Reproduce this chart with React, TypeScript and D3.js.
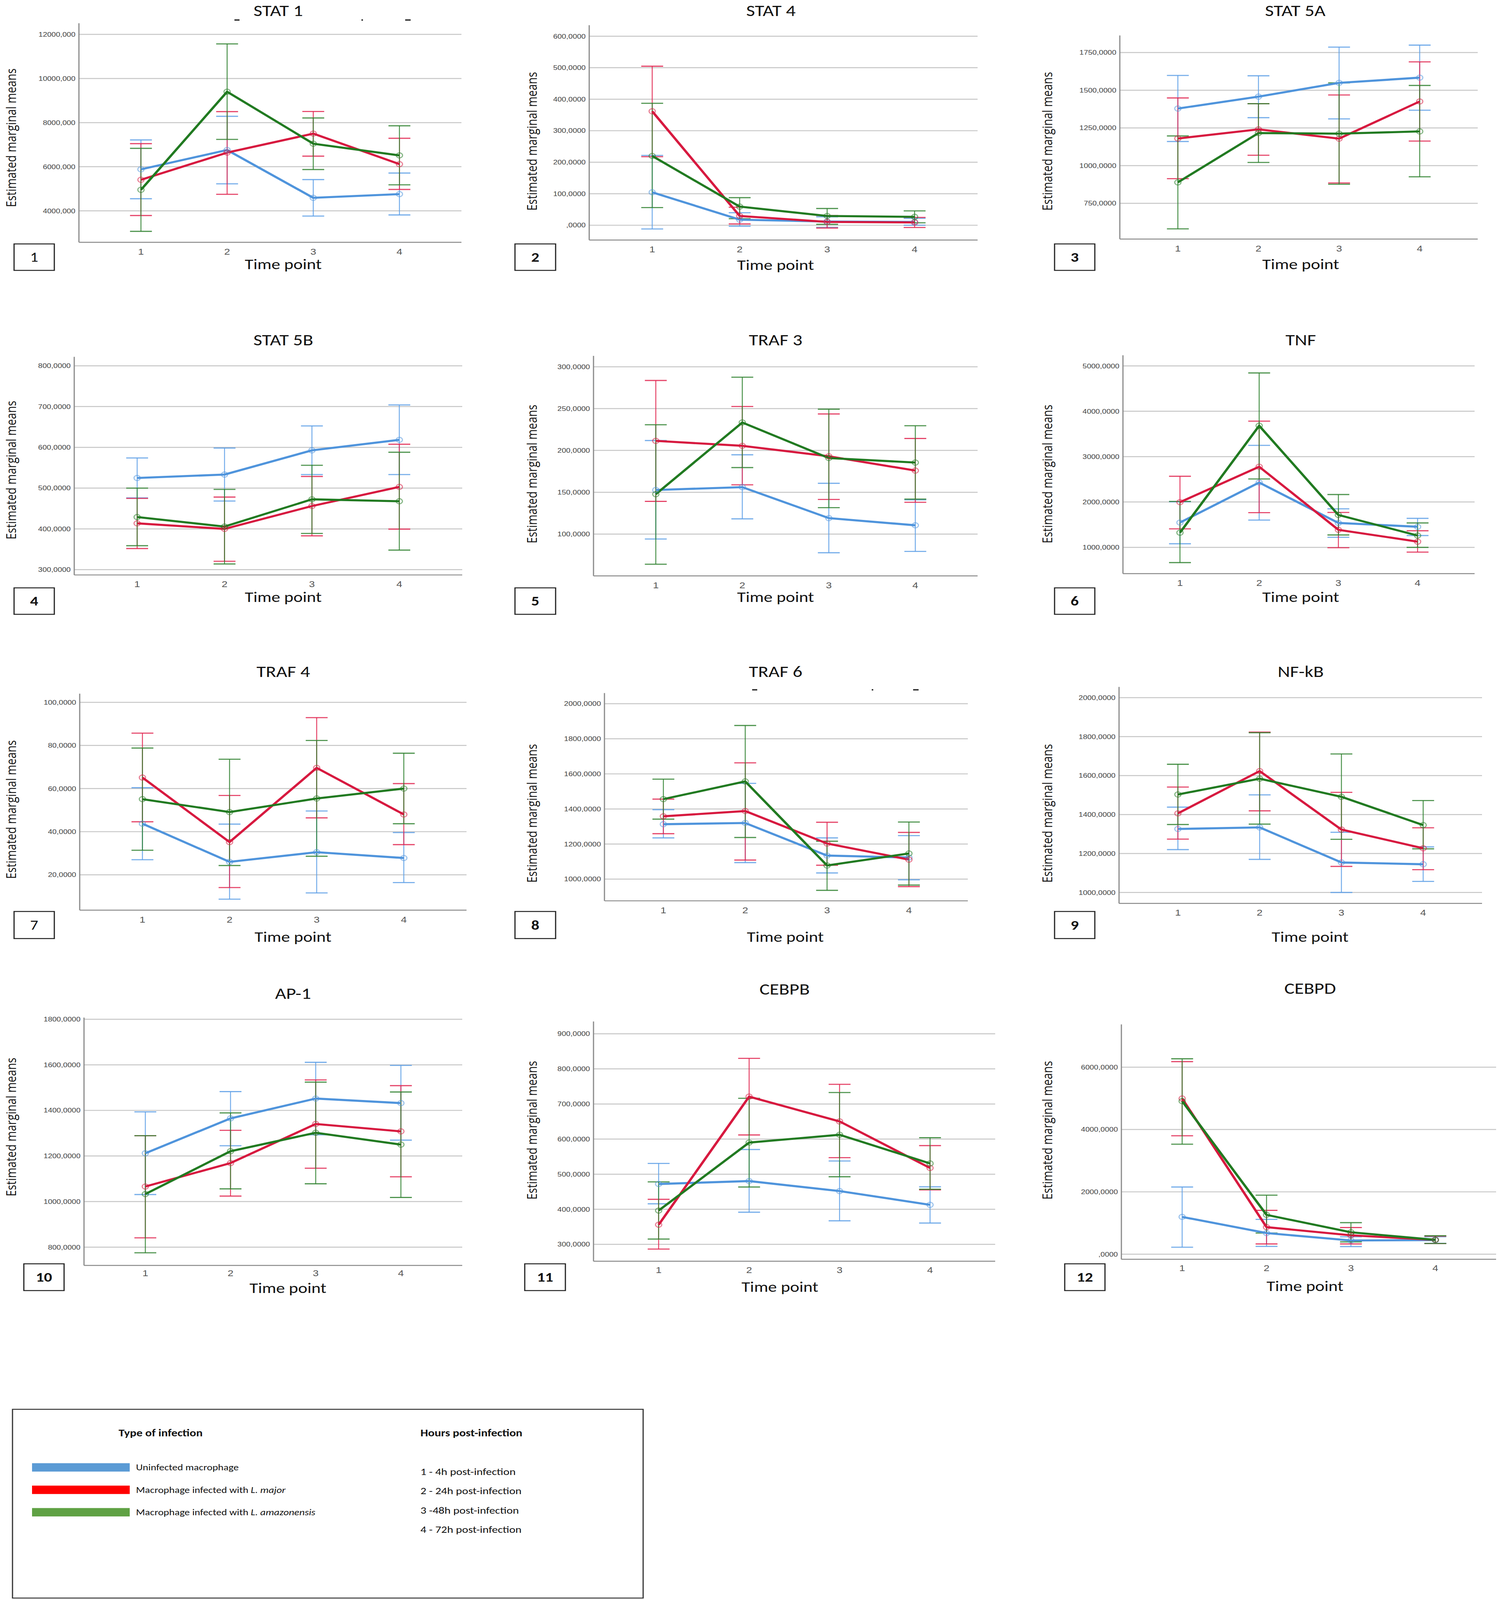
import React, { useEffect, useState } from 'react';
import * as d3 from 'd3';

// Gene panels, in reading order
const genes = ['STAT 1', 'STAT 4', 'STAT 5A', 'STAT 5B', 'TRAF 3', 'TNF', 'TRAF 4', 'TRAF 6', 'NF-kB', 'AP-1', 'CEBPB', 'CEBPD'];
const timePoints = ['1', '2', '3', '4'];

// Uninfected macrophage (blue)
const uninfectedMean = [
  [5882, 6759, 4591, 4759],
  [104.6, 17.7, 11.8, 10.6],
  [1378.6, 1457.6, 1548.8, 1583.4],
  [524.9, 533.3, 592.7, 618.4],
  [152.7, 156.1, 119.1, 110.5],
  [1546, 2429, 1538, 1454],
  [43.7, 26.0, 30.5, 27.8],
  [1313, 1320, 1134, 1123],
  [1326, 1334, 1154, 1145],
  [1212, 1365, 1452, 1432],
  [472, 480.4, 451.8, 412.7],
  [1196, 677, 440, 453],
];
const uninfectedLow = [
  [4549, 5224, 3764, 3814],
  [-11.8, -3, -7, 0],
  [1160, 1318, 1310, 1367.5],
  [476, 468.3, 533.3, 533.3],
  [94.1, 118.2, 77.7, 79.3],
  [1080, 1601, 1223, 1260],
  [27, 8.7, 11.6, 16.4],
  [1235, 1094, 1035, 996],
  [1220, 1170, 1000, 1057],
  [1031, 1245, 1293, 1269.5],
  [415.6, 391.7, 367.1, 360.7],
  [223, 250, 243, 348],
];
const uninfectedHigh = [
  [7215, 8287, 5418, 5713],
  [221.6, 39.6, 26.6, 22],
  [1598, 1596, 1786, 1799],
  [574, 598.3, 652.5, 704],
  [211.8, 194.8, 160.7, 141],
  [2004, 3248, 1849, 1639],
  [60.4, 43.5, 49.6, 39.6],
  [1396, 1546, 1235, 1248],
  [1438, 1501, 1309, 1234],
  [1393.5, 1482.5, 1611, 1597.5],
  [530.6, 570.3, 537.6, 464],
  [2156, 1117, 559, 559],
];

// Infected with L. major (red)
const majorMean = [
  [5409, 6641, 7502, 6118],
  [361.7, 29.5, 10.6, 8.9],
  [1180, 1240.5, 1179, 1425.5],
  [413.6, 400, 456, 503],
  [211.4, 205.5, 193, 175.9],
  [1996, 2777, 1387, 1126],
  [65.1, 35.2, 69.6, 48],
  [1358, 1388, 1203, 1111],
  [1406, 1623, 1323, 1227],
  [1066, 1169, 1340.5, 1308],
  [356, 720.9, 650.3, 517.7],
  [4995, 867.6, 604.7, 460],
];
const majorLow = [
  [3789, 4751, 6481, 4970],
  [217.5, 4.1, -8.9, -7.1],
  [913.7, 1069, 885, 1163],
  [351.8, 320.5, 383, 399.5],
  [139.1, 158.9, 141.4, 138],
  [1408, 1765, 992, 895],
  [44.6, 14.1, 46.4, 34],
  [1259, 1108.5, 1079, 957],
  [1274, 1419, 1134, 1117],
  [841, 1024, 1146.5, 1108.7],
  [286.6, 611.7, 547, 455.3],
  [3799, 328.6, 328.6, 341.8],
];
const majorHigh = [
  [7046, 8498, 8506, 7291],
  [504.7, 57.3, 30.7, 24.8],
  [1449, 1410.7, 1468.7, 1688],
  [474.8, 478, 528.6, 607.7],
  [283.6, 252.5, 243.6, 214.3],
  [2567, 3782, 1769, 1366],
  [85.7, 56.8, 92.9, 62.3],
  [1456, 1663, 1324, 1266],
  [1541, 1823, 1514, 1332],
  [1289, 1312.6, 1533.7, 1508.5],
  [428.4, 830, 756, 581.4],
  [6178, 1406.5, 854.4, 578],
];

// Infected with L. amazonensis (green)
const amazonMean = [
  [4954, 9401, 7046, 6515],
  [219.9, 59.1, 29.5, 26.6],
  [889, 1216, 1212, 1227],
  [429, 405.6, 472.5, 467.8],
  [147.7, 233.4, 190.9, 185.5],
  [1324, 3681, 1714, 1260],
  [55.1, 49.1, 55.4, 60],
  [1456, 1557, 1077.5, 1146],
  [1503, 1584, 1491, 1346],
  [1033, 1221, 1302, 1250],
  [396.3, 590, 612.3, 530.6],
  [4910, 1262, 703, 460],
];
const amazonLow = [
  [3072, 7240, 5873, 5181],
  [56.1, 20.7, 3, 7.7],
  [580.7, 1021, 876.7, 926],
  [358.8, 314, 388.8, 348],
  [64, 179.5, 131.6, 141.8],
  [664, 2508, 1273, 1000],
  [31.4, 24.3, 28.6, 43.7],
  [1342, 1237, 936, 966],
  [1349, 1351, 1273, 1224],
  [775.4, 1055.7, 1078, 1018],
  [315.2, 463.5, 492.6, 457],
  [3529, 677, 394, 341.8],
];
const amazonHigh = [
  [6835, 11570, 8211, 7857],
  [387.1, 87.5, 53.2, 45.5],
  [1197, 1410.7, 1549, 1531.6],
  [500, 496.8, 556, 588],
  [230.7, 287.5, 249.3, 229.5],
  [2013, 4845, 2164, 1538],
  [78.8, 73.6, 82.3, 76.4],
  [1570, 1876, 1216, 1325.5],
  [1658, 1820, 1711, 1472],
  [1289, 1389, 1524, 1480.7],
  [478, 716.2, 732.6, 604],
  [6270, 1893, 1012, 591.5],
];

// y axis extents and ticks per panel
const yDomains = [
  [2574, 12506], [-47, 635], [513, 1863], [287, 822], [50, 313], [420, 5235],
  [3.6, 104], [876, 2061], [944, 2055], [720, 1807], [252, 935], [-164, 7373],
];
const yTicks = [
  [4000, 6000, 8000, 10000, 12000],
  [0, 100, 200, 300, 400, 500, 600],
  [750, 1000, 1250, 1500, 1750],
  [300, 400, 500, 600, 700, 800],
  [100, 150, 200, 250, 300],
  [1000, 2000, 3000, 4000, 5000],
  [20, 40, 60, 80, 100],
  [1000, 1200, 1400, 1600, 1800, 2000],
  [1000, 1200, 1400, 1600, 1800, 2000],
  [800, 1000, 1200, 1400, 1600, 1800],
  [300, 400, 500, 600, 700, 800, 900],
  [0, 2000, 4000, 6000],
];
const tickDecimals = [3, 4, 4, 4, 4, 4, 4, 4, 4, 4, 4, 4];

const groupLabels = ['Uninfected macrophage', 'Macrophage infected with ', 'Macrophage infected with '];
const groupItalic = ['', 'L. major', 'L. amazonensis'];
const hourLabels = ['1 - 4h post-infection', '2 - 24h post-infection', '3 -48h post-infection', '4 - 72h post-infection'];

// panel frames in reference pixels (3839 x 4959 artboard); xt = offset of the 1..4 labels below the axis
const frames = [
  { l: 202, r: 1181, t: 72, b: 751, tx: 712, ty: 33, xx: 725, xy: 819, xt: 29, yx: 27, yy: 427, box: [36, 756, 103, 82] },
  { l: 1508, r: 2502, t: 78, b: 744, tx: 1973, ty: 33, xx: 1985, xy: 821, xt: 29, yx: 1360, yy: 438, box: [1318, 756, 104, 82] },
  { l: 2866, r: 3782, t: 110, b: 741, tx: 3315, ty: 33, xx: 3329, xy: 819, xt: 29, yx: 2679, yy: 438, box: [2699, 756, 103, 82] },
  { l: 190, r: 1183, t: 1106, b: 1782, tx: 725, ty: 1053, xx: 725, xy: 1850, xt: 29, yx: 27, yy: 1457, box: [36, 1822, 103, 82] },
  { l: 1519, r: 2502, t: 1103, b: 1785, tx: 1985, ty: 1053, xx: 1985, xy: 1850, xt: 29, yx: 1360, yy: 1469, box: [1318, 1822, 104, 82] },
  { l: 2874, r: 3774, t: 1101, b: 1778, tx: 3329, ty: 1053, xx: 3329, xy: 1850, xt: 29, yx: 2679, yy: 1469, box: [2699, 1822, 103, 82] },
  { l: 204, r: 1194, t: 2150, b: 2821, tx: 725, ty: 2081, xx: 750, xy: 2904, xt: 29, yx: 27, yy: 2509, box: [36, 2825, 103, 84] },
  { l: 1547, r: 2477, t: 2148, b: 2792, tx: 1985, ty: 2081, xx: 2010, xy: 2904, xt: 29, yx: 1360, yy: 2521, box: [1318, 2825, 104, 84] },
  { l: 2864, r: 3793, t: 2129, b: 2800, tx: 3329, ty: 2081, xx: 3353, xy: 2904, xt: 29, yx: 2679, yy: 2521, box: [2699, 2825, 103, 84] },
  { l: 215, r: 1183, t: 3154, b: 3922, tx: 750, ty: 3079, xx: 737, xy: 3992, xt: 24, yx: 27, yy: 3493, box: [61, 3917, 103, 83] },
  { l: 1519, r: 2547, t: 3166, b: 3909, tx: 2008, ty: 3065, xx: 1996, xy: 3988, xt: 27, yx: 1360, yy: 3503, box: [1343, 3917, 104, 83] },
  { l: 2870, r: 3829, t: 3175, b: 3903, tx: 3353, ty: 3063, xx: 3340, xy: 3986, xt: 27, yx: 2679, yy: 3503, box: [2725, 3917, 103, 83] },
];

// stray dash marks left under two of the titles in the source figure
const strayMarks = [
  { x: 600, y: 62, w: 13 }, { x: 925, y: 62, w: 4 }, { x: 1037, y: 62, w: 14 },
  { x: 1925, y: 2138, w: 13 }, { x: 2231, y: 2138, w: 4 }, { x: 2337, y: 2138, w: 14 },
];

const CALIBRI = "Carlito, 'Liberation Sans', sans-serif";
const TICKFONT = "'Liberation Sans', Arial, sans-serif";
const SANS = "'Open Sans', 'DejaVu Sans', sans-serif";

const series = [
  { mean: uninfectedMean, low: uninfectedLow, high: uninfectedHigh, line: '#4f94dc', bar: '#5d9fe6' },
  { mean: majorMean, low: majorLow, high: majorHigh, line: '#d7193f', bar: '#e0244f' },
  { mean: amazonMean, low: amazonLow, high: amazonHigh, line: '#217a21', bar: '#2f812f' },
];
const swatchColors = ['#5b9bd5', '#ff0000', '#5fa144'];

const fmt = (v: number, d: number) => (v === 0 ? ',' : `${v},`) + '0'.repeat(d);

const Panel = ({ i }: { i: number }) => {
  const f = frames[i];
  const x = d3.scalePoint<string>().domain(timePoints).range([f.l, f.r]).padding(0.72);
  const y = d3.scaleLinear().domain(yDomains[i]).range([f.b, f.t]);
  const line = d3.line<number>()
    .x((_, j) => x(timePoints[j])!)
    .y(d => y(d));
  const cap = 28;

  return (
    <g>
      <text x={f.tx} y={f.ty} textAnchor="middle" dominantBaseline="central"
        fontFamily={CALIBRI} fontSize={49} fill="#111">{genes[i]}</text>

      {yTicks[i].map(t => (
        <g key={t}>
          <line x1={f.l} x2={f.r} y1={y(t)} y2={y(t)} stroke="#c6c6c6" strokeWidth={3} />
          <text x={f.l - 9} y={y(t)} textAnchor="end" dominantBaseline="central"
            fontFamily={TICKFONT} fontSize={20} fill="#444">{fmt(t, tickDecimals[i])}</text>
        </g>
      ))}

      <line x1={f.l} x2={f.l} y1={f.t} y2={f.b} stroke="#8a8a8a" strokeWidth={3} />
      <line x1={f.l} x2={f.r} y1={f.b} y2={f.b} stroke="#8a8a8a" strokeWidth={3} />

      {timePoints.map(tp => (
        <text key={tp} x={x(tp)} y={f.b + f.xt} textAnchor="middle" dominantBaseline="central"
          fontFamily={TICKFONT} fontSize={27} fill="#555">{tp}</text>
      ))}

      {series.map((s, k) => (
        <g key={'e' + k} stroke={s.bar}>
          {timePoints.map((tp, j) => {
            const cx = x(tp)!;
            const y0 = y(s.low[i][j]);
            const y1 = y(s.high[i][j]);
            return (
              <g key={tp}>
                <line x1={cx} x2={cx} y1={y0} y2={y1} strokeWidth={2.5} strokeOpacity={0.85} />
                <line x1={cx - cap} x2={cx + cap} y1={y0} y2={y0} strokeWidth={3.5} strokeOpacity={0.85} />
                <line x1={cx - cap} x2={cx + cap} y1={y1} y2={y1} strokeWidth={3.5} strokeOpacity={0.85} />
              </g>
            );
          })}
        </g>
      ))}

      {series.map((s, k) => (
        <path key={'l' + k} d={line(s.mean[i]) ?? ''} fill="none" stroke={s.line}
          strokeWidth={6.5} strokeLinejoin="round" />
      ))}

      {series.map((s, k) => (
        <g key={'m' + k}>
          {timePoints.map((tp, j) => (
            <circle key={tp} cx={x(tp)} cy={y(s.mean[i][j])} r={8} fill="none"
              stroke={s.line} strokeOpacity={0.55} strokeWidth={3} />
          ))}
        </g>
      ))}

      <text x={f.xx} y={f.xy} textAnchor="middle" dominantBaseline="central"
        fontFamily={CALIBRI} fontSize={45} fill="#111">Time point</text>

      <text transform={`translate(${f.yx},${f.yy}) rotate(-90)`} textAnchor="middle"
        dominantBaseline="central" fontFamily={SANS} fontSize={35} fill="#111"
        textLength={430} lengthAdjust="spacingAndGlyphs">Estimated marginal means</text>

      <rect x={f.box[0]} y={f.box[1]} width={f.box[2]} height={f.box[3]} fill="#fff"
        stroke="#222" strokeWidth={3} />
      <text x={f.box[0] + f.box[2] / 2} y={f.box[1] + f.box[3] / 2} textAnchor="middle"
        dominantBaseline="central" fontFamily={CALIBRI} fontSize={41}
        fontWeight={i === 0 || i === 6 ? 'normal' : 'bold'} fill="#111">{i + 1}</text>
    </g>
  );
};

const Legend = () => {
  const rowY = d3.scalePoint<number>().domain([0, 1, 2]).range([4548, 4687]);
  const hourY = d3.scalePoint<number>().domain([0, 1, 2, 3]).range([4561, 4741]);
  return (
    <g fontFamily={CALIBRI} fill="#111">
      <rect x={32} y={4368} width={1614} height={585} fill="#fff" stroke="#333" strokeWidth={3} />
      <text x={411} y={4441} textAnchor="middle" dominantBaseline="central" fontWeight="bold" fontSize={31}>Type of infection</text>
      <text x={1076} y={4441} dominantBaseline="central" fontWeight="bold" fontSize={31}>Hours post-infection</text>
      {groupLabels.map((g, k) => (
        <g key={k}>
          <rect x={82} y={rowY(k)! - 13} width={250} height={26} fill={swatchColors[k]} />
          <text x={348} y={rowY(k)} dominantBaseline="central" fontSize={27}>
            {g}<tspan fontStyle="italic">{groupItalic[k]}</tspan>
          </text>
        </g>
      ))}
      {hourLabels.map((h, k) => (
        <text key={h} x={1076} y={hourY(k)} dominantBaseline="central" fontSize={30}>{h}</text>
      ))}
    </g>
  );
};

document.body.style.margin = '0';

export default function App() {
  // the photographed viewport may be shorter than the 4959px artboard: fit the whole figure into it
  const [size, setSize] = useState({ w: window.innerWidth || 3839, h: window.innerHeight || 4959 });
  useEffect(() => {
    document.body.style.margin = '0';
    document.body.style.overflow = 'hidden';
    setSize({ w: window.innerWidth || 3839, h: window.innerHeight || 4959 });
  }, []);

  return (
    <svg width={size.w} height={size.h} viewBox="0 0 3839 4959" preserveAspectRatio="none"
      style={{ display: 'block', background: '#fff' }}>
      <rect x={0} y={0} width={3839} height={4959} fill="#fff" />
      {genes.map((g, i) => <Panel key={g} i={i} />)}
      {strayMarks.map((m, k) => (
        <rect key={k} x={m.x} y={m.y - 2} width={m.w} height={4} fill="#222" />
      ))}
      <Legend />
    </svg>
  );
}
